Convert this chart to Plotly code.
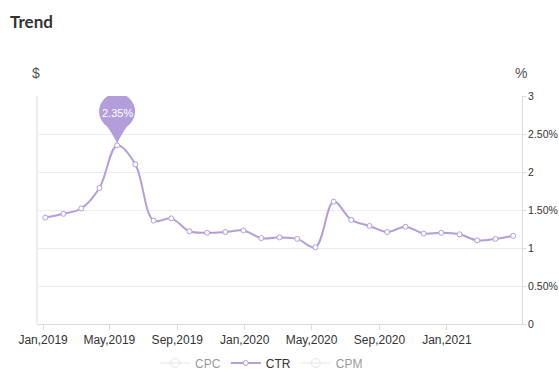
import plotly.graph_objects as go

# ---------------- data ----------------
title_text = "Trend"
series_names = ["CPC", "CTR", "CPM"]
dates = [
    "2019-01-05", "2019-02-07", "2019-03-11", "2019-04-13", "2019-05-15",
    "2019-06-17", "2019-07-20", "2019-08-21", "2019-09-23", "2019-10-25",
    "2019-11-27", "2019-12-30", "2020-01-31", "2020-03-04", "2020-04-05",
    "2020-05-08", "2020-06-10", "2020-07-12", "2020-08-14", "2020-09-15",
    "2020-10-18", "2020-11-20", "2020-12-22", "2021-01-24", "2021-02-25",
    "2021-03-30", "2021-05-01",
]
ctr = [1.40, 1.45, 1.52, 1.79, 2.35, 2.10, 1.36, 1.39, 1.22, 1.20,
       1.21, 1.23, 1.13, 1.14, 1.12, 1.01, 1.61, 1.37, 1.29, 1.21,
       1.28, 1.19, 1.20, 1.18, 1.10, 1.12, 1.16]
x_tick_vals = ["2019-01-01", "2019-05-01", "2019-09-01", "2020-01-01",
               "2020-05-01", "2020-09-01", "2021-01-01"]
x_tick_text = ["Jan,2019", "May,2019", "Sep,2019", "Jan,2020",
               "May,2020", "Sep,2020", "Jan,2021"]
y_tick_vals = [0, 0.5, 1, 1.5, 2, 2.5, 3]
y_tick_text = ["0", "0.50%", "1", "1.50%", "2", "2.50%", "3"]
x_range = ["2018-12-21", "2021-05-17"]

# ---------------- style ----------------
LINE = "#b39ddb"
AXIS = "#d9d9e8"
GRID = "#ececf0"
TXT = "#333333"
FONT = "Liberation Sans, Arial, sans-serif"

fig = go.Figure()
for name in series_names:
    if name == "CTR":
        fig.add_trace(go.Scatter(
            name=name, x=dates, y=ctr, mode="lines+markers",
            line=dict(color=LINE, width=2, shape="spline", smoothing=1),
            marker=dict(symbol="circle", size=5, color="white",
                        line=dict(color=LINE, width=1)),
        ))
    else:
        fig.add_trace(go.Scatter(
            name=name, x=dates, y=[None] * len(dates), mode="lines+markers",
            visible="legendonly",
            line=dict(color="#cccccc", width=1),
            marker=dict(symbol="circle-open", size=9, color="#cccccc"),
        ))

# peak pin
imax = max(range(len(ctr)), key=lambda i: ctr[i])
xp, yp = dates[imax], ctr[imax]
fig.add_shape(type="circle", xref="x", yref="y", xsizemode="pixel", ysizemode="pixel",
              xanchor=xp, yanchor=yp, x0=-18, x1=18, y0=16, y1=52,
              fillcolor=LINE, line=dict(width=0), layer="above")
fig.add_shape(type="path", xref="x", yref="y", xsizemode="pixel", ysizemode="pixel",
              xanchor=xp, yanchor=yp, path="M -15,26 Q -5,13 0,2 Q 5,13 15,26 Z",
              fillcolor=LINE, line=dict(width=0), layer="above")
fig.add_annotation(x=xp, y=yp, text=f"{yp:.2f}%", showarrow=False, yshift=32,
                   font=dict(color="white", size=11, family=FONT))

# left axis line
fig.add_shape(type="line", xref="paper", yref="paper", x0=0, x1=0, y0=0, y1=1,
              line=dict(color=AXIS, width=1), layer="below")

# axis unit labels
fig.add_annotation(xref="paper", yref="paper", x=-0.002, y=1.10, text="$", showarrow=False,
                   font=dict(size=14, color="#555555", family=FONT), xanchor="center", yanchor="middle")
fig.add_annotation(xref="paper", yref="paper", x=0.998, y=1.10, text="%", showarrow=False,
                   font=dict(size=14, color="#555555", family=FONT), xanchor="center", yanchor="middle")

fig.update_layout(
    width=559, height=379,
    margin=dict(l=37, r=37, t=96, b=55),
    paper_bgcolor="white", plot_bgcolor="white",
    font=dict(family=FONT, size=12, color=TXT),
    title=dict(text=title_text, x=10 / 559, xanchor="left", y=1 - 22 / 379, yanchor="middle",
               font=dict(family="Lato, Open Sans, sans-serif", size=17, color=TXT, weight=700)),
    showlegend=True,
    legend=dict(orientation="h", xref="container", yref="container", itemwidth=30,
                x=0.468, xanchor="center", y=1 - 363 / 379, yanchor="middle",
                font=dict(size=12, color=TXT), itemclick=False, itemdoubleclick=False),
    xaxis=dict(type="date", range=x_range, tickvals=x_tick_vals, ticktext=x_tick_text,
               ticks="outside", ticklen=5, tickcolor=AXIS, showline=True, linecolor=AXIS,
               showgrid=False, zeroline=False, automargin=False,
               tickfont=dict(size=12, color=TXT)),
    yaxis=dict(side="right", range=[0, 3], tickvals=y_tick_vals, ticktext=y_tick_text,
               ticks="outside", ticklen=3, tickcolor=AXIS, showline=True, linecolor=AXIS,
               gridcolor=GRID, zeroline=False, automargin=False, ticklabelstandoff=0,
               tickfont=dict(size=10.5, color=TXT)),
)

fig.write_html("out.html", config={"displayModeBar": False},
               post_script="document.body.style.margin='0px';document.body.style.overflow='hidden';")
